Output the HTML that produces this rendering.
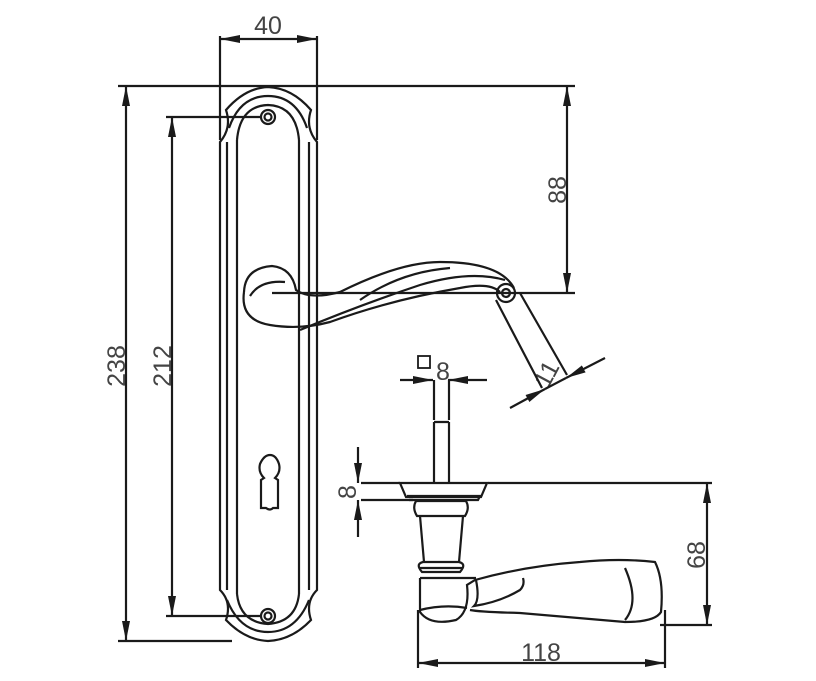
<!DOCTYPE html>
<html><head><meta charset="utf-8"><style>body{margin:0;background:#fff}svg{display:block}</style></head><body>
<svg width="816" height="681" viewBox="0 0 816 681" xmlns="http://www.w3.org/2000/svg" fill="none" stroke="#1a1a1a" stroke-width="2.2">
<defs>
<marker id="a" viewBox="0 0 20 10" refX="20" refY="5" markerWidth="20" markerHeight="10" markerUnits="userSpaceOnUse" orient="auto-start-reverse"><path d="M0,1 L20,5 L0,9 Z" fill="#1a1a1a" stroke="none"/></marker>
</defs>
<line x1="220" y1="36" x2="220" y2="140"/><line x1="317" y1="36" x2="317" y2="140"/>
<line x1="220" y1="39" x2="317" y2="39" marker-start="url(#a)" marker-end="url(#a)"/>
<line x1="118" y1="86" x2="575" y2="86"/>
<line x1="118" y1="641" x2="232" y2="641"/>
<line x1="126" y1="86" x2="126" y2="641" marker-start="url(#a)" marker-end="url(#a)"/>
<line x1="166" y1="117" x2="262" y2="117"/>
<line x1="166" y1="616" x2="262" y2="616"/>
<line x1="172" y1="117" x2="172" y2="616" marker-start="url(#a)" marker-end="url(#a)"/>
<line x1="272" y1="293" x2="575" y2="293"/>
<line x1="567" y1="86" x2="567" y2="293" marker-start="url(#a)" marker-end="url(#a)"/>
<g font-family="Liberation Sans, sans-serif" font-size="25" fill="#444" stroke="none">
<text x="268" y="34" text-anchor="middle">40</text>
<text transform="translate(125,366) rotate(-90)" text-anchor="middle">238</text>
<text transform="translate(171,366) rotate(-90)" text-anchor="middle">212</text>
<text transform="translate(566,190) rotate(-90)" text-anchor="middle">88</text>
<text x="443" y="380" text-anchor="middle">8</text>
<text transform="translate(356,492) rotate(-90)" text-anchor="middle">8</text>
<text transform="translate(705,555) rotate(-90)" text-anchor="middle">68</text>
<text x="541" y="661" text-anchor="middle">118</text>
<text transform="translate(554,378) rotate(-62)" text-anchor="middle">11</text>
</g>
<!-- Plate -->
<path d="M220,142 Q232,128 226,110 Q245,88 268,87 Q292,88 311,110 Q305,128 317,142 L317,590 Q305,602 311,620 Q292,640 268,641 Q245,640 226,620 Q232,602 220,590 Z"/>
<path d="M227,142 L227,590 M309,142 L309,590 M237,140 L237,594 M299,140 L299,594"/>
<path d="M229,128 Q240,96 268,96 Q296,96 307,128"/>
<path d="M237,140 Q240,106 268,105 Q296,106 299,140"/>
<path d="M227,600 Q240,632 268,632 Q296,632 309,600"/>
<path d="M237,594 Q240,622 268,624 Q296,622 299,594"/>
<circle cx="268" cy="117" r="7"/><circle cx="268" cy="117" r="3.5"/>
<circle cx="268" cy="616" r="7"/><circle cx="268" cy="616" r="3.5"/>
<path d="M264,478 Q258,472 260,464 Q264,455 270,455 Q276,455 279,464 Q281,472 275,478 L278,480 L278,508 L273,508 Q270,511 266,508 L261,508 L261,480 Z"/>
<!-- Lever front -->
<path d="M244,292 Q245,268 272,266 Q292,268 296,290 Q310,300 340,292 Q400,262 440,262 Q500,262 514,288"/>
<path d="M244,292 Q240,320 270,325 Q300,330 330,322 Q390,300 460,288 Q490,282 500,292"/>
<path d="M250,296 Q260,280 285,282 M300,330 Q360,305 420,285 Q470,270 505,280 M360,300 Q400,272 450,268"/>
<circle cx="506" cy="293" r="9"/><circle cx="506" cy="293" r="4"/>
<path d="M496,300 L542,388 M520,293 L567,375"/>
<line x1="510" y1="408" x2="545" y2="389" marker-end="url(#a)"/>
<line x1="605" y1="358" x2="566" y2="378" marker-end="url(#a)"/>
<line x1="545" y1="389" x2="566" y2="378"/>
<!-- Spindle -->
<rect x="418" y="356" width="12" height="12" stroke-width="1.8"/>
<line x1="400" y1="380" x2="433" y2="380" marker-end="url(#a)"/>
<line x1="487" y1="380" x2="448" y2="380" marker-end="url(#a)"/>
<path d="M434,380 L434,420 M449,380 L449,420 M434,422 L449,422 M434,422 L434,483 M449,422 L449,483"/>
<!-- Side view -->
<line x1="361" y1="483" x2="400" y2="483"/><line x1="361" y1="500" x2="413" y2="500"/>
<line x1="358" y1="447" x2="358" y2="483" marker-end="url(#a)"/>
<line x1="358" y1="537" x2="358" y2="500" marker-end="url(#a)"/>
<line x1="488" y1="483" x2="712" y2="483"/>
<line x1="707" y1="483" x2="707" y2="625" marker-start="url(#a)" marker-end="url(#a)"/>
<path d="M400,483 L487,483 L481,497 L406,497 Z M407,496 L480,496 L478,500 L409,500"/>
<path d="M416,501 Q412,508 417,516 L465,516 Q470,508 466,501 Z"/>
<path d="M420,516 L424,562 M463,516 L459,562"/>
<path d="M423,562 Q415,564 422,572 L460,572 Q467,564 459,562 Z M420,568 L462,568"/>
<path d="M420,578 L420,612 Q430,626 456,620 Q470,612 467,585 L475,580 Q525,566 580,562 Q620,558 655,562 Q664,580 661,612 Q655,622 625,622 Q580,618 520,613 Q480,612 470,610"/>
<path d="M420,578 L476,578 M420,610 Q444,604 467,608 M476,580 Q480,600 474,606 Q500,602 520,590 Q525,585 523,578 M625,620 Q640,602 625,568"/>
<line x1="418" y1="610" x2="418" y2="668"/><line x1="665" y1="610" x2="665" y2="668"/>
<line x1="660" y1="625" x2="712" y2="625"/>
<line x1="418" y1="663" x2="665" y2="663" marker-start="url(#a)" marker-end="url(#a)"/>
</svg>
</body></html>
